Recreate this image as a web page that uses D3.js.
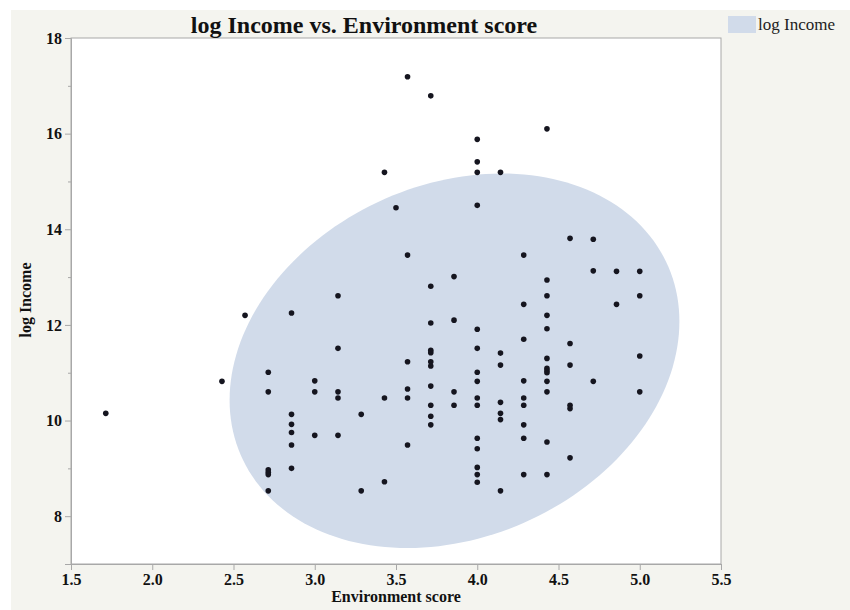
<!DOCTYPE html>
<html>
<head>
<meta charset="utf-8">
<script src="https://cdn.jsdelivr.net/npm/d3@7"></script>
<style>
  html, body { margin: 0; padding: 0; background: #fff; overflow: hidden; }
  svg { display: block; }
</style>
</head>
<body>
<div id="chart"></div>
<script>
// Environment score values are averages of 7 items, so the columns sit on multiples of 1/7
const envScore = [
    1.714,
    2.429,
    2.571,
    2.714, 2.714, 2.714, 2.714, 2.714, 2.714,
    2.857, 2.857, 2.857, 2.857, 2.857, 2.857,
    3.0, 3.0, 3.0,
    3.143, 3.143, 3.143, 3.143, 3.143,
    3.286, 3.286,
    3.429, 3.429, 3.429,
    3.5,
    3.571, 3.571, 3.571, 3.571, 3.571, 3.571,
    3.714, 3.714, 3.714, 3.714, 3.714, 3.714, 3.714, 3.714, 3.714, 3.714, 3.714,
    3.857, 3.857, 3.857, 3.857,
    4.0, 4.0, 4.0, 4.0, 4.0, 4.0, 4.0, 4.0, 4.0, 4.0, 4.0, 4.0, 4.0, 4.0, 4.0,
    4.143, 4.143, 4.143, 4.143, 4.143, 4.143, 4.143,
    4.286, 4.286, 4.286, 4.286, 4.286, 4.286, 4.286, 4.286, 4.286,
    4.429, 4.429, 4.429, 4.429, 4.429, 4.429, 4.429, 4.429, 4.429, 4.429, 4.429, 4.429, 4.429,
    4.571, 4.571, 4.571, 4.571, 4.571, 4.571,
    4.714, 4.714, 4.714,
    4.857, 4.857,
    5.0, 5.0, 5.0, 5.0
];
const logIncome = [
    10.15,
    10.82,
    12.20,
    11.01, 10.60, 8.97, 8.92, 8.87, 8.53,
    12.25, 10.13, 9.92, 9.75, 9.49, 9.00,
    10.83, 10.60, 9.69,
    12.61, 11.51, 10.60, 10.47, 9.69,
    10.13, 8.53,
    15.19, 10.47, 8.72,
    14.45,
    17.19, 13.46, 11.23, 10.66, 10.47, 9.49,
    16.79, 12.81, 12.04, 11.47, 11.42, 11.23, 11.14, 10.72, 10.32, 10.09, 9.91,
    13.01, 12.10, 10.60, 10.32,
    15.88, 15.41, 15.19, 14.50, 11.91, 11.51, 11.01, 10.82, 10.47, 10.32, 9.63, 9.41, 9.02, 8.87, 8.71,
    15.19, 11.41, 11.16, 10.38, 10.15, 10.02, 8.53,
    13.46, 12.43, 11.70, 10.83, 10.47, 10.32, 9.91, 9.63, 8.87,
    16.10, 12.94, 12.61, 12.20, 11.92, 11.30, 11.09, 11.04, 11.00, 10.82, 10.60, 9.55, 8.87,
    13.81, 11.61, 11.16, 10.32, 10.25, 9.22,
    13.79, 13.13, 10.82,
    13.12, 12.43,
    13.12, 12.61, 11.35, 10.60
];

// density ellipse: centre, half extents along each axis, correlation
const ellipseCenter = [3.86, 11.25];
const ellipseHalf = [1.384, 3.916];
const ellipseRho = 0.21;

const xTicks = [1.5, 2.0, 2.5, 3.0, 3.5, 4.0, 4.5, 5.0, 5.5];
const yTicks = [8, 10, 12, 14, 16, 18];
const yMinorTicks = [9, 11, 13, 15, 17];

const serif = '"Liberation Serif", "Times New Roman", serif';
const width = 850;
const height = 610;
const margin = { top: 38, right: 129, bottom: 46, left: 71 };
const innerWidth = width - margin.left - margin.right;
const innerHeight = height - margin.top - margin.bottom;

const svg = d3.select('#chart')
    .append('svg')
    .attr('width', width)
    .attr('height', height)
    .attr('font-family', serif);

svg.append('rect')
    .attr('x', 11)
    .attr('y', 10)
    .attr('width', width - 11)
    .attr('height', height - 10)
    .attr('fill', '#f4f4ef');

const g = svg.append('g')
    .attr('transform', `translate(${margin.left},${margin.top})`);

const x = d3.scaleLinear().domain([1.5, 5.5]).range([0, innerWidth]);
const y = d3.scaleLinear().domain([7, 18]).range([innerHeight, 0]);

g.append('rect')
    .attr('width', innerWidth)
    .attr('height', innerHeight)
    .attr('fill', '#fff')
    .attr('stroke', '#a8a8a8')
    .attr('stroke-width', 1);

// ellipse outline in data space
const ellipsePts = d3.range(0, 361, 2).map(deg => {
    const t = deg * Math.PI / 180;
    const ex = ellipseCenter[0] + ellipseHalf[0] * Math.cos(t);
    const ey = ellipseCenter[1] + ellipseHalf[1] *
        (ellipseRho * Math.cos(t) + Math.sqrt(1 - ellipseRho * ellipseRho) * Math.sin(t));
    return [x(ex), y(ey)];
});

g.append('path')
    .datum(ellipsePts)
    .attr('fill', '#d1dbea')
    .attr('d', d3.line().curve(d3.curveLinearClosed));

g.selectAll('.dot')
    .data(envScore)
    .enter()
    .append('circle')
    .attr('class', 'dot')
    .attr('cx', d => x(d))
    .attr('cy', (d, i) => y(logIncome[i]))
    .attr('r', 2.8)
    .attr('fill', '#15151f');

const yAxis = g.append('g')
    .call(d3.axisLeft(y).tickValues(yTicks).tickSize(6).tickFormat(d3.format('d')));

// minor ticks on the y axis, no labels
g.selectAll('.minor-tick')
    .data(yMinorTicks)
    .enter()
    .append('line')
    .attr('class', 'minor-tick')
    .attr('x1', -3)
    .attr('x2', 0)
    .attr('y1', d => y(d) + 0.5)
    .attr('y2', d => y(d) + 0.5)
    .attr('stroke', '#a8a8a8');

const xAxis = g.append('g')
    .attr('transform', `translate(0,${innerHeight})`)
    .call(d3.axisBottom(x).tickValues(xTicks).tickSize(6).tickFormat(d3.format('.1f')));

[yAxis, xAxis].forEach(ax => {
    ax.attr('font-family', serif)
        .attr('font-size', 16)
        .attr('font-weight', 'bold');
    ax.select('.domain').attr('stroke', '#a8a8a8');
    ax.selectAll('.tick line').attr('stroke', '#a8a8a8');
    ax.selectAll('text').attr('fill', '#111');
});
xAxis.selectAll('text').attr('y', 10);

svg.append('text')
    .attr('x', 364)
    .attr('y', 33)
    .attr('text-anchor', 'middle')
    .attr('font-size', 24)
    .attr('font-weight', 'bold')
    .attr('fill', '#111')
    .text('log Income vs. Environment score');

svg.append('text')
    .attr('x', margin.left + innerWidth / 2)
    .attr('y', 602)
    .attr('text-anchor', 'middle')
    .attr('font-size', 16)
    .attr('font-weight', 'bold')
    .attr('fill', '#111')
    .text('Environment score');

svg.append('text')
    .attr('transform', 'rotate(-90)')
    .attr('x', -300)
    .attr('y', 31)
    .attr('text-anchor', 'middle')
    .attr('font-size', 16)
    .attr('font-weight', 'bold')
    .attr('fill', '#111')
    .text('log Income');

const legend = svg.append('g')
    .attr('transform', 'translate(728,16)');

legend.append('rect')
    .attr('width', 28)
    .attr('height', 17)
    .attr('fill', '#d1dbea');

legend.append('text')
    .attr('x', 30)
    .attr('y', 14)
    .attr('font-size', 17)
    .attr('fill', '#222')
    .text('log Income');
</script>
</body>
</html>
